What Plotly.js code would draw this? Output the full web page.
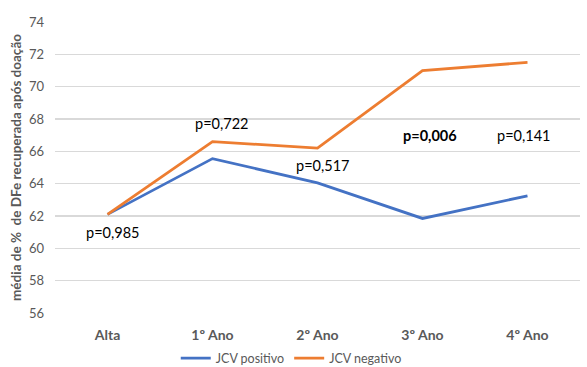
<!DOCTYPE html>
<html><head><meta charset="utf-8">
<script src="https://cdn.plot.ly/plotly-3.0.1.min.js"></script>
<style>html,body{margin:0;padding:0;background:#fff;}#chart{width:587px;height:367px;}</style>
</head><body><div id="chart"></div>
<script>
const categories = ["Alta", "1º Ano", "2º Ano", "3º Ano", "4º Ano"];
const jcvPositivo = [62.1, 65.55, 64.05, 61.85, 63.25];
const jcvNegativo = [62.1, 66.6, 66.2, 71.0, 71.5];
const pLabels = ["p=0,985", "p=0,722", "p=0,517", "<b>p=0,006</b>", "p=0,141"];
const pX = [0.05, 1.09, 2.05, 3.07, 3.96];
const pY = [60.95, 67.75, 65.1, 67.0, 67.0];
const yTicks = [56, 58, 60, 62, 64, 66, 68, 70, 72, 74];

const font = "Lato, 'Open Sans', sans-serif";
const traces = [
  {x: categories, y: jcvPositivo, name: "JCV positivo", type: "scatter", mode: "lines",
   line: {color: "#4472C4", width: 2.8}},
  {x: categories, y: jcvNegativo, name: "JCV negativo", type: "scatter", mode: "lines",
   line: {color: "#ED7D31", width: 2.8}}
];
const annotations = pLabels.map((t, i) => ({
  x: pX[i], y: pY[i], xref: "x", yref: "y", text: t, showarrow: false,
  font: {family: font, size: 14.5, color: "#000"}
}));
const layout = {
  width: 587, height: 367,
  margin: {l: 55, r: 7, t: 22, b: 54, autoexpand: false},
  paper_bgcolor: "#fff", plot_bgcolor: "#fff",
  font: {family: font},
  showlegend: true,
  legend: {orientation: "h", x: 0.45, xanchor: "center", y: -0.105, yanchor: "top",
           font: {family: font, size: 12.5, color: "#595959"}, itemwidth: 30, tracegroupgap: 0},
  xaxis: {type: "category", range: [-0.5, 4.5], showgrid: false, zeroline: false, showline: false,
          ticks: "", ticklabelstandoff: 12,
          tickfont: {family: font, size: 14, color: "#595959", weight: "bold"}},
  yaxis: {range: [56, 74], tickvals: yTicks, showgrid: true, gridcolor: "#D9D9D9", gridwidth: 1.5,
          zeroline: false, showline: false, ticks: "", ticklabelstandoff: 10,
          tickfont: {family: font, size: 13, color: "#595959"},
          title: {text: "<b>média de %  de DFe recuperada após doação</b>", standoff: 4,
                  font: {family: font, size: 13.5, color: "#595959"}}},
  annotations: annotations
};
Plotly.newPlot("chart", traces, layout, {displayModeBar: false, staticPlot: true});
</script></body></html>
